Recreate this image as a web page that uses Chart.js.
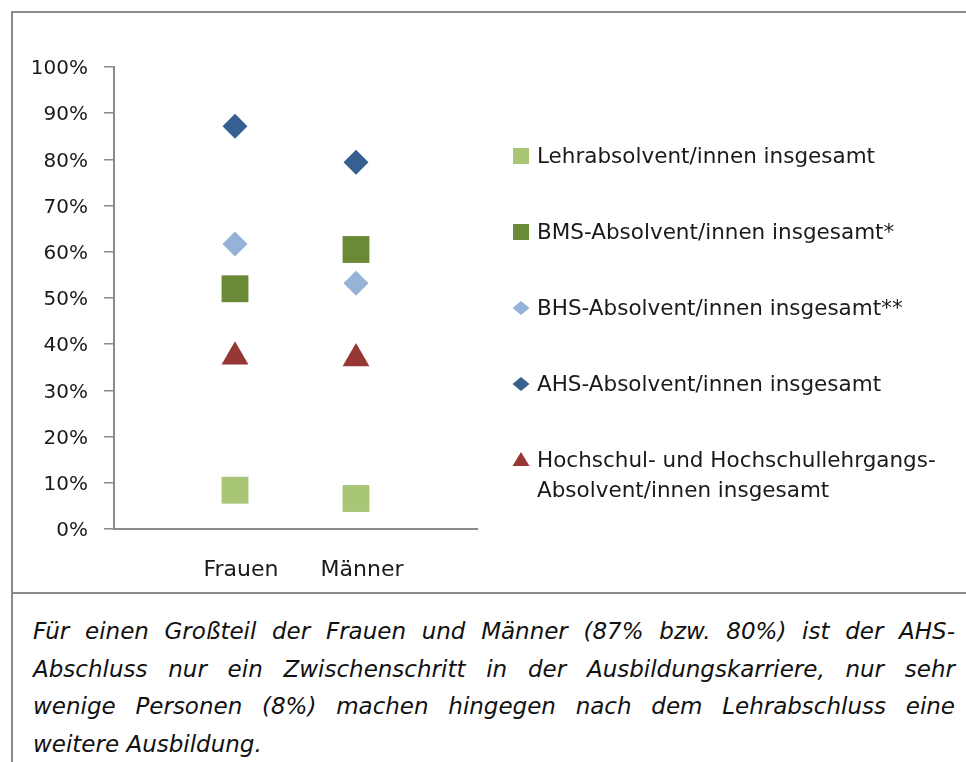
<!DOCTYPE html>
<html>
<head>
<meta charset="utf-8">
<script src="https://cdn.jsdelivr.net/npm/chart.js@4/dist/chart.umd.min.js"></script>
<style>
  body { margin: 0; background: #fff; }
  #frame {
    position: absolute; left: 11px; top: 11px; width: 953px;
    border-left: 2px solid #8a8a8a; border-top: 2px solid #8a8a8a;
  }
  #chartbox { position: relative; width: 953px; height: 579px; }
  #caption {
    border-top: 2px solid #8a8a8a;
    padding: 19px 11px 0 20px; height: 160px;
    font-family: "DejaVu Sans", sans-serif; font-style: italic;
    font-size: 23px; line-height: 37.5px; color: #111;
  }
  #caption span { display: block; white-space: nowrap; text-align: justify; text-align-last: justify; }
  #caption span.last { text-align-last: left; }
</style>
</head>
<body>
<div id="frame">
  <div id="chartbox"><canvas id="myChart"></canvas></div>
  <div id="caption">
    <span>Für einen Großteil der Frauen und Männer (87% bzw. 80%) ist der AHS-</span>
    <span>Abschluss nur ein Zwischenschritt in der Ausbildungskarriere, nur sehr</span>
    <span>wenige Personen (8%) machen hingegen nach dem Lehrabschluss eine</span>
    <span class="last">weitere Ausbildung.</span>
  </div>
</div>
<script>
const categories = ['Frauen', 'Männer'];
const y_ticks = [0, 10, 20, 30, 40, 50, 60, 70, 80, 90, 100];

const lehr = [8.4, 6.6];
const bms = [52.0, 60.5];
const bhs = [61.7, 53.2];
const ahs = [87.2, 79.4];
const hochschul = [37.3, 36.9];

function points(vals) {
        return vals.map(function(v, i) {
                return {x: i + 1, y: v};
        });
}

const series = [
        {label: 'Lehrabsolvent/innen insgesamt', data: lehr, color: '#a9c576', style: 'rect', radius: 19},
        {label: 'BMS-Absolvent/innen insgesamt*', data: bms, color: '#6b8a37', style: 'rect', radius: 19},
        {label: 'BHS-Absolvent/innen insgesamt**', data: bhs, color: '#95b3d7', style: 'rectRot', radius: 12.5},
        {label: 'AHS-Absolvent/innen insgesamt', data: ahs, color: '#376092', style: 'rectRot', radius: 12.5},
        {label: ['Hochschul- und Hochschullehrgangs-', 'Absolvent/innen insgesamt'], data: hochschul, color: '#953735', style: 'triangle', radius: 15.5}
];

// legend drawn at the right, with Excel-like symbols
const sideLegend = {
        id: 'sideLegend',
        afterDraw(chart) {
                const ctx = chart.ctx;
                const area = chart.chartArea;
                const x0 = area.left + 407;
                let y = area.top + 89;
                ctx.save();
                ctx.font = '21.5px "DejaVu Sans"';
                ctx.textBaseline = 'middle';
                ctx.textAlign = 'left';
                chart.data.datasets.forEach(function(ds) {
                        ctx.fillStyle = ds.backgroundColor;
                        ctx.beginPath();
                        if (ds.pointStyle === 'rect') {
                                ctx.rect(x0 - 8, y - 8, 16, 16);
                        } else if (ds.pointStyle === 'rectRot') {
                                ctx.moveTo(x0 - 8.5, y);
                                ctx.lineTo(x0, y - 7);
                                ctx.lineTo(x0 + 8.5, y);
                                ctx.lineTo(x0, y + 7);
                        } else {
                                ctx.moveTo(x0, y - 8);
                                ctx.lineTo(x0 + 8.5, y + 6);
                                ctx.lineTo(x0 - 8.5, y + 6);
                        }
                        ctx.closePath();
                        ctx.fill();
                        ctx.fillStyle = '#1a1a1a';
                        const lines = Array.isArray(ds.label) ? ds.label : [ds.label];
                        lines.forEach(function(t, k) {
                                ctx.fillText(t, x0 + 16, y + 1 + k * 30);
                        });
                        y += 76;
                });
                ctx.restore();
        }
};

const config = {
        type: 'scatter',
        data: {
                datasets: series.map(function(s) {
                        return {
                                label: s.label,
                                data: points(s.data),
                                backgroundColor: s.color,
                                borderColor: s.color,
                                borderWidth: 0,
                                pointStyle: s.style,
                                pointRadius: s.radius,
                                pointHoverRadius: s.radius
                        };
                })
        },
        options: {
                responsive: true,
                maintainAspectRatio: false,
                animation: false,
                layout: {padding: {left: 0, top: 54, right: 489, bottom: 0}},
                plugins: {legend: {display: false}, tooltip: {enabled: false}},
                scales: {
                        x: {
                                type: 'linear', min: 0, max: 3,
                                afterFit: function(s) { s.height = 63; },
                                afterBuildTicks: function(s) {
                                        s.ticks = categories.map(function(c, i) { return {value: i + 1}; });
                                },
                                grid: {display: false, drawTicks: false},
                                border: {color: '#8a8a8a', width: 2},
                                ticks: {
                                        padding: 28, labelOffset: 6, color: '#1a1a1a',
                                        font: {family: 'DejaVu Sans', size: 22},
                                        callback: function(v) { return categories[v - 1] || ''; }
                                }
                        },
                        y: {
                                min: 0, max: 100,
                                afterFit: function(s) { s.width = 101; },
                                afterBuildTicks: function(s) {
                                        s.ticks = y_ticks.map(function(v) { return {value: v}; });
                                },
                                grid: {drawOnChartArea: false, tickLength: 10, color: '#8a8a8a', lineWidth: 1.5},
                                border: {color: '#8a8a8a', width: 2},
                                ticks: {
                                        padding: 16, labelOffset: 2, color: '#1a1a1a',
                                        font: {family: 'DejaVu Sans', size: 20},
                                        callback: function(v) { return v + '%'; }
                                }
                        }
                }
        },
        plugins: [sideLegend]
};

const myChart = new Chart(document.getElementById('myChart'), config);
</script>
</body>
</html>
